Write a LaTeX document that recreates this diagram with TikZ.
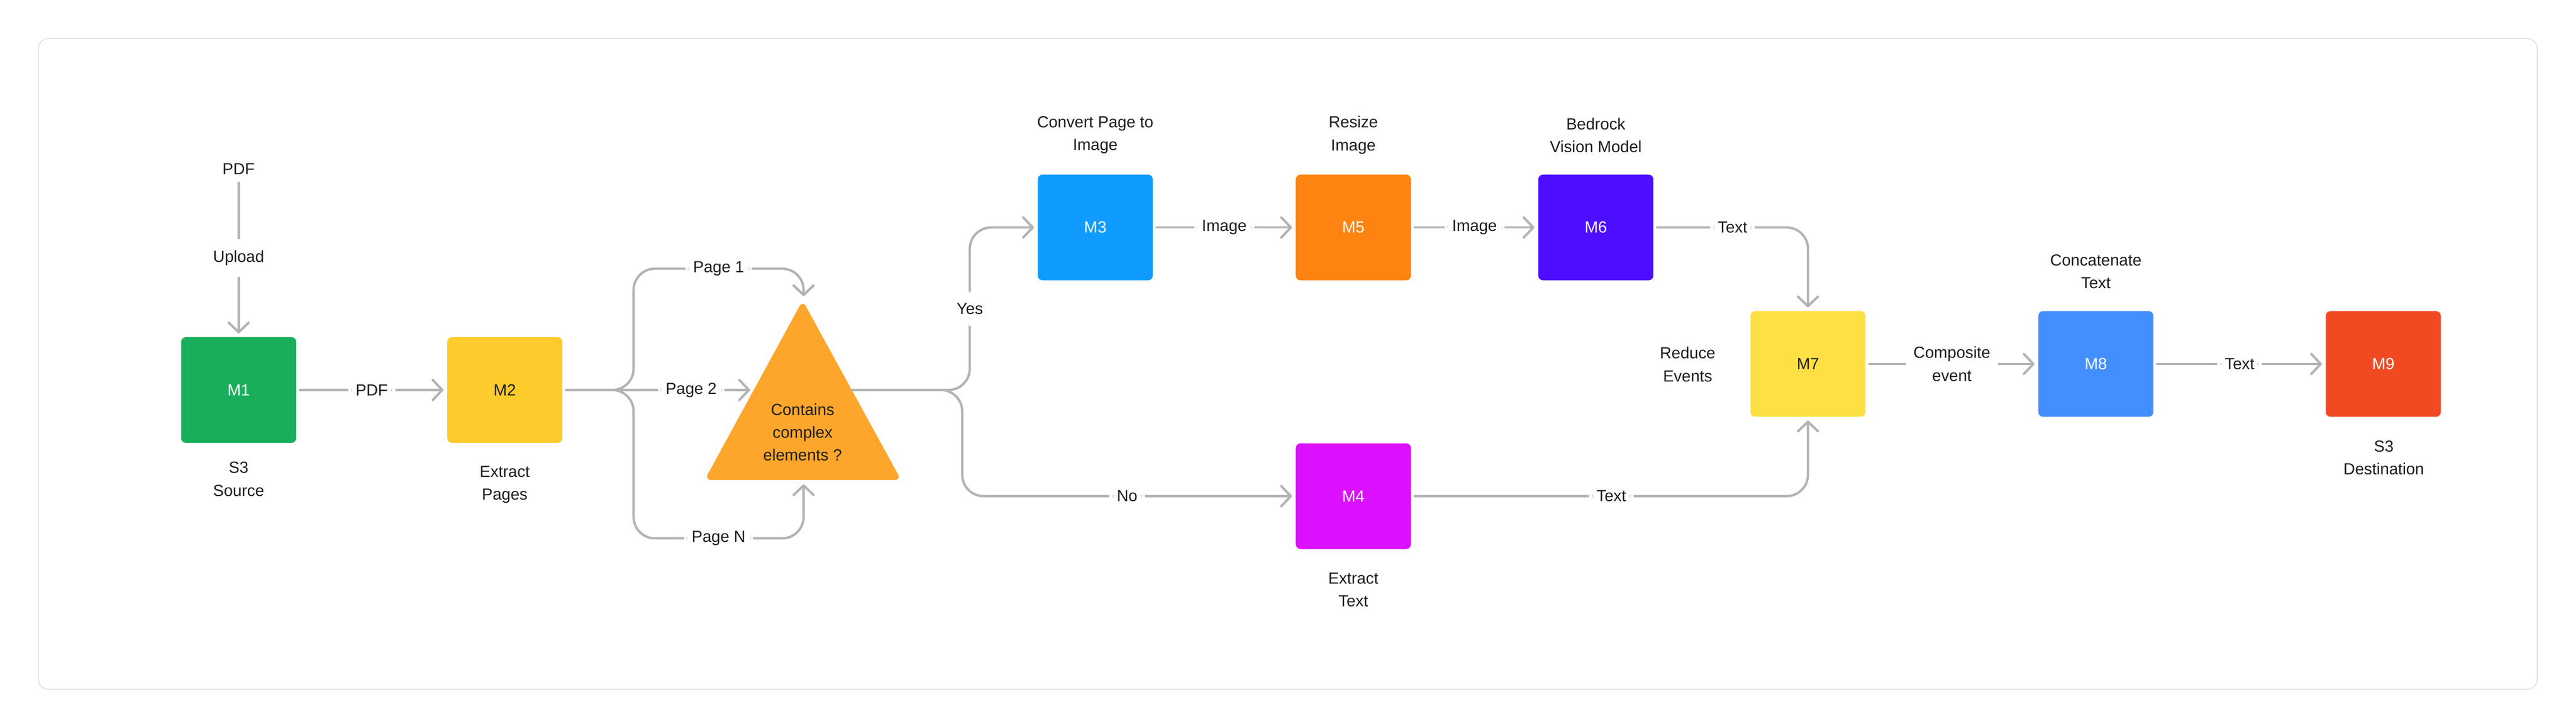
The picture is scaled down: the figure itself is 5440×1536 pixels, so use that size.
\documentclass[tikz,border=0pt]{standalone}
\usepackage{fontspec}
\setmainfont{Liberation Sans}
\usetikzlibrary{arrows.meta}
\definecolor{frameC}{HTML}{E4E4E4}
\definecolor{lineC}{HTML}{B3B3B3}
\definecolor{txtC}{HTML}{1E1E1E}
\definecolor{cM1}{HTML}{18AE5C}
\definecolor{cM2}{HTML}{FDCB2B}
\definecolor{cTri}{HTML}{FDA62B}
\definecolor{cM3}{HTML}{0F9BFF}
\definecolor{cM5}{HTML}{FE8311}
\definecolor{cM6}{HTML}{4D0DFF}
\definecolor{cM4}{HTML}{DC10FF}
\definecolor{cM7}{HTML}{FEE044}
\definecolor{cM8}{HTML}{448FFF}
\definecolor{cM9}{HTML}{F14A23}
\begin{document}
\begin{tikzpicture}[x=1pt,y=-1pt,
  every node/.style={font=\fontsize{34}{48}\selectfont},
  box/.style={minimum width=243pt, minimum height=223pt, rounded corners=10pt,
    inner sep=0pt, outer sep=8pt, text=white},
  captxt/.style={align=center, text=txtC, inner sep=0pt},
  lbl/.style={fill=white, align=center, text=txtC, inner xsep=16pt, inner ysep=8pt},
  vlbl/.style={fill=white, align=center, text=txtC, inner xsep=4pt, inner ysep=24pt},
  conn/.style={draw=lineC, line width=5pt, line cap=round, line join=round, rounded corners=45pt},
  arr/.style={conn, -{Straight Barb[length=20pt,width=42pt,round]}}
]
\useasboundingbox (0,0) rectangle (5440,1536);
% outer frame
\draw[frameC, line width=2.5pt, rounded corners=22pt] (81,81) rectangle (5358,1455);

% boxes
\node[box, fill=cM1] (m1) at (504,823) {M1};
\node[box, fill=cM2, text=txtC] (m2) at (1066,823) {M2};
\node[box, fill=cM3] (m3) at (2313,480) {M3};
\node[box, fill=cM5] (m5) at (2858,480) {M5};
\node[box, fill=cM6] (m6) at (3370,480) {M6};
\node[box, fill=cM4] (m4) at (2858,1047) {M4};
\node[box, fill=cM7, text=txtC] (m7) at (3818,768) {M7};
\node[box, fill=cM8] (m8) at (4426,768) {M8};
\node[box, fill=cM9] (m9) at (5033,768) {M9};

% decision triangle
\fill[cTri, rounded corners=14pt] (1695,1013) -- (1488,1013) -- (1695,634) -- (1903,1013) -- cycle;
\node[captxt] (tri) at (1695,912) {Contains\\complex\\elements ?};
\coordinate (triL) at (1584,823);
\coordinate (triR) at (1799,823);
\coordinate (triT) at (1697,625);
\coordinate (triB) at (1697,1022);

% captions
\node[captxt, outer sep=17pt] (pdf) at (504,357) {PDF};
\node[captxt] (capm1) at (504,1011) {S3\\Source};
\node[captxt] (capm2) at (1066,1023) {Extract\\Pages};
\node[captxt] (capm3) at (2313,285) {Convert Page to\\Image};
\node[captxt] (capm5) at (2858,285) {Resize\\Image};
\node[captxt] (capm6) at (3370,285) {Bedrock\\Vision Model};
\node[captxt] (capm4) at (2858,1245) {Extract\\Text};
\node[captxt] (capm7) at (3564,769) {Reduce\\Events};
\node[captxt] (capm8) at (4426,573) {Concatenate\\Text};
\node[captxt] (capm9) at (5034,966) {S3\\Destination};

% connectors
\draw[arr] (pdf) -- node[vlbl] {Upload} (m1.north);
\draw[arr] (m1.east) -- node[lbl] {PDF} (m2.west);
\draw[arr] (m2.east) -- (1338,823) -- (1338,567) -- node[lbl] {Page 1} (1697,567) -- (triT);
\draw[arr] (m2.east) -- node[lbl, pos=0.68] {Page 2} (triL);
\draw[arr] (m2.east) -- (1338,823) -- (1338,1136) -- node[lbl] {Page N} (1697,1136) -- (triB);
\draw[arr] (triR) -- (2048,823) -- node[vlbl] {Yes} (2048,480) -- (m3.west);
\draw[arr] (triR) -- (2032,823) -- (2032,1047) -- node[lbl] {No} (m4.west);
\draw[arr] (m3.east) -- node[lbl] {Image} (m5.west);
\draw[arr] (m5.east) -- node[lbl] {Image} (m6.west);
\draw[arr] (m6.east) -- node[lbl] {Text} (3818,480) -- (m7.north);
\draw[arr] (m4.east) -- node[lbl] {Text} (3818,1047) -- (m7.south);
\draw[arr] (m7.east) -- node[lbl] {Composite\\event} (m8.west);
\draw[arr] (m8.east) -- node[lbl] {Text} (m9.west);
\end{tikzpicture}
\end{document}
